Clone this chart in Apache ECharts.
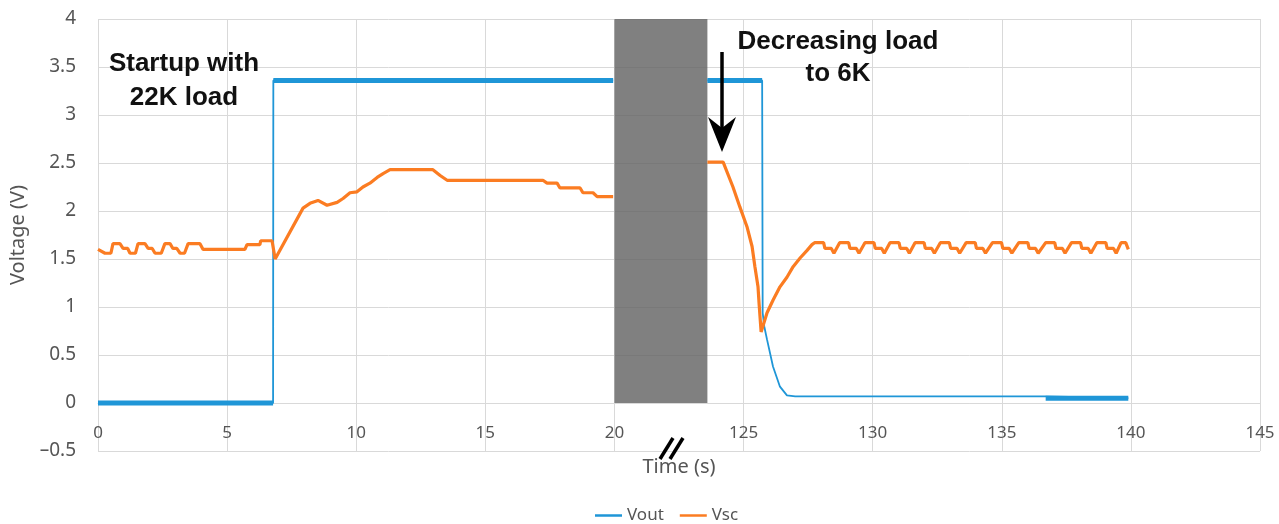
<!DOCTYPE html>
<html>
<head>
<meta charset="utf-8">
<script src="https://cdn.jsdelivr.net/npm/echarts@6/dist/echarts.min.js"></script>
<style>
  html, body { margin: 0; padding: 0; background: #ffffff; }
  #chart { width: 1279px; height: 524px; }
</style>
</head>
<body>
<div id="chart"></div>
<script>
// ---- Data (time in seconds, voltage in volts); null marks the broken-axis gap ----
const xTickLabels = ['0', '5', '10', '15', '20', '125', '130', '135', '140', '145'];

const voutTime = [0, 6.78, 6.79, 19.95, null, 123.6, 125.72, 125.74, 125.8, 125.91, 126.14, 126.41, 126.68, 127.0, 136.68, 136.7, 139.9];
const voutVolt = [0, 0, 3.36, 3.36, null, 3.36, 3.36, 0.94, 0.80, 0.66, 0.38, 0.17, 0.08, 0.07, 0.07, 0.05, 0.05];
// spans where the Vout trace is noisy (drawn thicker)
const voutNoisySpans = [[0, 6.78], [6.79, 19.95], [123.6, 125.72], [136.7, 139.9]];

const vscTime = [
  0, 0.27, 0.5, 0.58, 0.85, 0.97, 1.15, 1.24, 1.45, 1.55, 1.82, 1.94, 2.1, 2.21, 2.45, 2.59, 2.79, 2.9, 3.05, 3.18, 3.35, 3.49, 3.95, 4.07,
  5.69, 5.77, 6.27, 6.3, 6.74, 6.86, 7.94, 8.21, 8.52, 8.87, 9.26, 9.49, 9.76, 10.03, 10.26, 10.53, 10.81, 11.04, 11.31,
  12.97, 13.25, 13.52, 17.23, 17.39, 17.78, 17.89, 18.67, 18.78, 19.17, 19.33, 19.95,
  null,
  123.6, 124.21, 124.59, 124.86, 125.14, 125.33, 125.44, 125.56, 125.6, 125.68, 125.91, 126.14, 126.41, 126.68, 126.92, 127.19, 127.46, 127.65,
  127.75, 128.1, 128.15, 128.4, 128.5,
  128.72, 129.07, 129.12, 129.37, 129.47,
  129.7, 130.05, 130.1, 130.35, 130.45,
  130.67, 131.02, 131.07, 131.32, 131.42,
  131.64, 131.99, 132.04, 132.29, 132.39,
  132.62, 132.97, 133.02, 133.27, 133.37,
  133.62, 133.97, 134.02, 134.27, 134.37,
  134.64, 134.99, 135.04, 135.29, 135.39,
  135.66, 136.01, 136.06, 136.31, 136.41,
  136.7, 137.05, 137.1, 137.35, 137.45,
  137.7, 138.05, 138.1, 138.35, 138.45,
  138.68, 139.03, 139.08, 139.33, 139.43,
  139.62, 139.8, 139.9
];
const vscVolt = [
  1.60, 1.56, 1.56, 1.66, 1.66, 1.61, 1.61, 1.56, 1.56, 1.66, 1.66, 1.61, 1.61, 1.56, 1.56, 1.66, 1.66, 1.61, 1.61, 1.56, 1.56, 1.66, 1.66, 1.60,
  1.60, 1.65, 1.65, 1.69, 1.69, 1.50, 2.03, 2.08, 2.11, 2.06, 2.09, 2.13, 2.19, 2.20, 2.25, 2.29, 2.35, 2.39, 2.43,
  2.43, 2.37, 2.32, 2.32, 2.29, 2.29, 2.24, 2.24, 2.19, 2.19, 2.15, 2.15,
  null,
  2.51, 2.51, 2.25, 2.04, 1.83, 1.63, 1.42, 1.21, 1.04, 0.74, 0.94, 1.07, 1.21, 1.31, 1.42, 1.51, 1.59, 1.65,
  1.67, 1.67, 1.61, 1.61, 1.56,
  1.67, 1.67, 1.61, 1.61, 1.56,
  1.67, 1.67, 1.61, 1.61, 1.56,
  1.67, 1.67, 1.61, 1.61, 1.56,
  1.67, 1.67, 1.61, 1.61, 1.56,
  1.67, 1.67, 1.61, 1.61, 1.56,
  1.67, 1.67, 1.61, 1.61, 1.56,
  1.67, 1.67, 1.61, 1.61, 1.56,
  1.67, 1.67, 1.61, 1.61, 1.56,
  1.67, 1.67, 1.61, 1.61, 1.56,
  1.67, 1.67, 1.61, 1.61, 1.56,
  1.67, 1.67, 1.61, 1.61, 1.56,
  1.67, 1.67, 1.60
];
// hidden (omitted) time span, shown as a grey band
const breakStart = 20, breakEnd = 123.6;
const axisOffset = 100; // seconds removed by the axis break

// ---- helpers ----
const toAxis = t => (t > breakStart + 1 ? t - axisOffset : t);
function pairs(ts, vs) {
  return ts.map((t, i) => (t === null ? ['-', '-'] : [toAxis(t), vs[i]]));
}
function spanPairs(ts, vs, spans) {
  const out = [];
  spans.forEach(([a, b]) => {
    ts.forEach((t, i) => { if (t !== null && t >= a && t <= b) out.push([toAxis(t), vs[i]]); });
    out.push(['-', '-']);
  });
  return out;
}

const BLUE = '#1f96d7';
const ORANGE = '#fb7c22';
const AXIS_TEXT = '#555555';
const GRID = '#d9d9d9';
const FONT = 'Noto Sans';

const chart = echarts.init(document.getElementById('chart'), null, { renderer: 'canvas' });
chart.setOption({
  animation: false,
  backgroundColor: '#ffffff',
  grid: { left: 98, right: 19, top: 19, bottom: 73, containLabel: false },
  legend: {
    data: ['Vout', 'Vsc'],
    top: 502,
    left: 590,
    icon: 'rect',
    itemWidth: 27,
    itemHeight: 2.5,
    itemGap: 16,
    textStyle: { color: AXIS_TEXT, fontSize: 17, fontFamily: FONT }
  },
  xAxis: {
    type: 'value',
    min: 0,
    max: 45,
    interval: 5,
    offset: -48,
    name: 'Time (s)',
    nameLocation: 'middle',
    nameGap: 54,
    nameTextStyle: { color: AXIS_TEXT, fontSize: 20, fontFamily: FONT },
    axisLine: { show: true, onZero: false, lineStyle: { color: GRID, width: 1 } },
    axisTick: { show: false },
    axisLabel: {
      margin: 22,
      color: AXIS_TEXT,
      fontSize: 17,
      fontFamily: FONT,
      formatter: v => xTickLabels[Math.round(v / 5)]
    },
    splitLine: { show: true, lineStyle: { color: GRID, width: 1 } }
  },
  yAxis: {
    type: 'value',
    min: -0.5,
    max: 4,
    interval: 0.5,
    name: 'Voltage (V)',
    nameLocation: 'middle',
    nameGap: 68,
    nameTextStyle: { color: AXIS_TEXT, fontSize: 20, fontFamily: FONT },
    axisLine: { show: false },
    axisTick: { show: false },
    axisLabel: {
      margin: 22,
      color: AXIS_TEXT,
      fontSize: 19,
      fontFamily: FONT,
      formatter: v => (v < 0 ? '\u2013' + Math.abs(v) : String(v))
    },
    splitLine: { show: true, lineStyle: { color: GRID, width: 1 } }
  },
  series: [
    {
      name: 'Vout',
      type: 'line',
      data: pairs(voutTime, voutVolt),
      showSymbol: false,
      symbol: 'none',
      lineStyle: { color: BLUE, width: 1.8 },
      itemStyle: { color: BLUE },
      z: 2
    },
    {
      name: 'Vout',
      type: 'line',
      data: spanPairs(voutTime, voutVolt, voutNoisySpans),
      showSymbol: false,
      symbol: 'none',
      lineStyle: { color: BLUE, width: 5 },
      itemStyle: { color: BLUE },
      z: 2
    },
    {
      name: 'Vsc',
      type: 'line',
      data: pairs(vscTime, vscVolt),
      showSymbol: false,
      symbol: 'none',
      lineStyle: { color: ORANGE, width: 3.2 },
      itemStyle: { color: ORANGE },
      z: 3,
      markArea: {
        silent: true,
        itemStyle: { color: 'rgba(96,96,96,0.8)' },
        data: [[{ xAxis: breakStart, yAxis: 0 }, { xAxis: toAxis(breakEnd), yAxis: 4 }]]
      }
    }
  ],
  graphic: [
    {
      type: 'text',
      x: 184, y: 47,
      style: {
        text: 'Startup with\n22K load',
        fill: '#111111',
        font: 'bold 26px "Liberation Sans", Arial, sans-serif',
        lineHeight: 34,
        align: 'center'
      },
      z: 10
    },
    {
      type: 'text',
      x: 838, y: 26,
      style: {
        text: 'Decreasing load\nto 6K',
        fill: '#111111',
        font: 'bold 26px "Liberation Sans", Arial, sans-serif',
        lineHeight: 32,
        align: 'center'
      },
      z: 10
    },
    {
      type: 'line',
      shape: { x1: 722, y1: 52, x2: 722, y2: 128 },
      style: { stroke: '#000000', lineWidth: 3.5 },
      z: 10
    },
    {
      type: 'polygon',
      shape: { points: [[708, 117], [722, 128], [736, 117], [722, 152]] },
      style: { fill: '#000000' },
      z: 10
    },
    {
      type: 'line',
      shape: { x1: 660, y1: 459, x2: 673, y2: 438 },
      style: { stroke: '#000000', lineWidth: 3.5 },
      z: 10
    },
    {
      type: 'line',
      shape: { x1: 670, y1: 459, x2: 683, y2: 438 },
      style: { stroke: '#000000', lineWidth: 3.5 },
      z: 10
    }
  ]
});
</script>
</body>
</html>
